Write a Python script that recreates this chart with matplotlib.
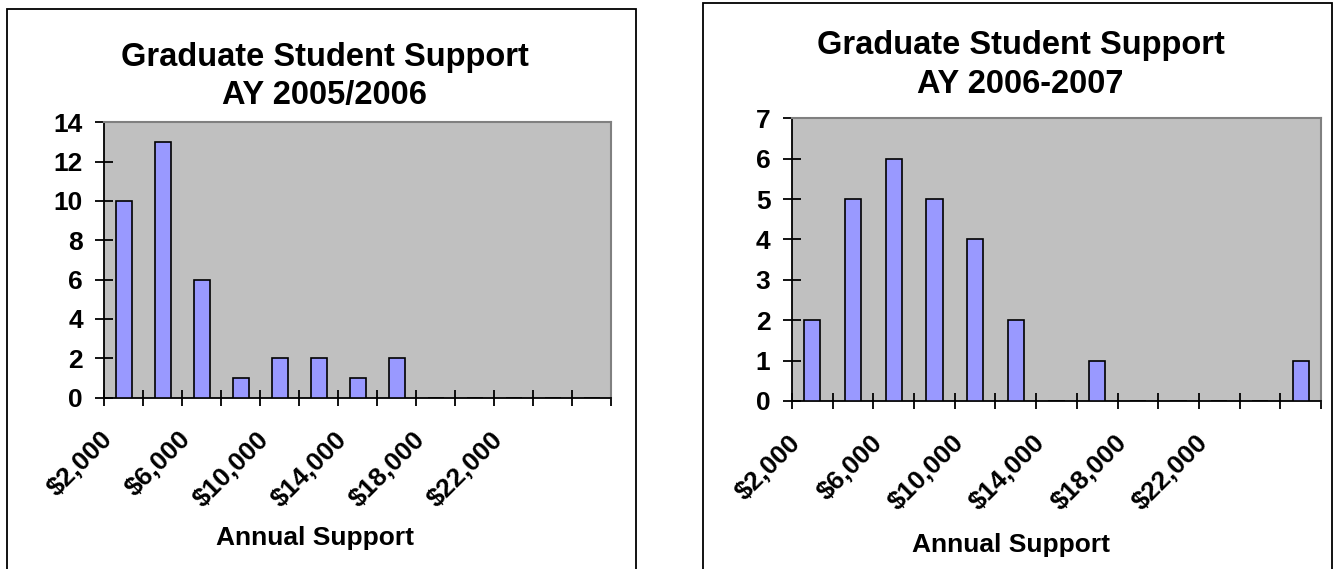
import matplotlib
matplotlib.use("Agg")
import matplotlib.pyplot as plt
from matplotlib.patches import Rectangle
from matplotlib.transforms import ScaledTranslation, blended_transform_factory
import numpy as np

# Support brackets (annual support, USD) and student counts per bracket
bins = [2000, 4000, 6000, 8000, 10000, 12000, 14000, 16000,
        18000, 20000, 22000, 24000, 26000]
counts_2005_2006 = [10, 13, 6, 1, 2, 2, 1, 2, 0, 0, 0, 0, 0]
counts_2006_2007 = [2, 5, 6, 5, 4, 2, 0, 1, 0, 0, 0, 0, 1]
tick_labels = ["$2,000", "$6,000", "$10,000", "$14,000", "$18,000", "$22,000"]
labelled_bins = [2000, 6000, 10000, 14000, 18000, 22000]

titles = ["Graduate Student Support\nAY 2005/2006",
          "Graduate Student Support\nAY 2006-2007"]
xlabel = "Annual Support"

plt.rcParams["font.family"] = ["Liberation Sans", "DejaVu Sans"]
plt.rcParams["font.weight"] = "bold"

W, H = 1337, 569
fig = plt.figure(figsize=(W / 100, H / 100), dpi=100)


def px_box(x0, y0, x1, y1):
    """Convert pixel box (top-left origin) into figure fraction rect."""
    return [x0 / W, 1 - y1 / H, (x1 - x0) / W, (y1 - y0) / H]


panels = [
    dict(counts=counts_2005_2006, title=titles[0], ymax=14, ystep=2,
         plot=(104.3, 122.3, 611.3, 397.5), frame=(7, 9, 636, 575),
         title_y=76.5, xlabel_y=538),
    dict(counts=counts_2006_2007, title=titles[1], ymax=7, ystep=1,
         plot=(792, 118.3, 1321, 401), frame=(703, 3, 1332, 575),
         title_y=65, xlabel_y=545),
]

bar_color = "#9999FF"
plot_bg = "#C0C0C0"

for p in panels:
    # outer chart frame
    fx0, fy0, fx1, fy1 = p["frame"]
    fig.patches.append(Rectangle((fx0 / W, 1 - fy1 / H), (fx1 - fx0) / W,
                                 (fy1 - fy0) / H, transform=fig.transFigure,
                                 fill=False, edgecolor="black", linewidth=1.3))
    ax = fig.add_axes(px_box(*p["plot"]))
    ax.set_facecolor(plot_bg)

    n = len(bins)
    pos = np.arange(n)
    ax.bar(pos, p["counts"], width=0.4, color=bar_color,
           edgecolor="black", linewidth=1.2, zorder=3)
    ax.set_xlim(-0.5, n - 0.5)
    ax.set_ylim(0, p["ymax"])

    # category boundary ticks; labels sit under every other category
    ax.set_xticks(np.arange(n + 1) - 0.5)
    ax.set_xticklabels([])
    ax.tick_params(axis="x", direction="inout", length=12,
                   width=1.3, color="black")
    base = blended_transform_factory(ax.transData, ax.transAxes)
    offset = ScaledTranslation(-15 / 100, -38 / 100, fig.dpi_scale_trans)
    for b, lab in zip(labelled_bins, tick_labels):
        ax.text(bins.index(b), 0, lab, transform=base + offset,
                rotation=45, rotation_mode="anchor", ha="right", va="center",
                fontsize=19, fontweight="bold", clip_on=False)

    ax.set_yticks(np.arange(0, p["ymax"] + 1, p["ystep"]))
    ax.tick_params(axis="y", direction="inout", length=13, width=1.3,
                   labelsize=19, pad=9)
    for lab in ax.get_yticklabels():
        lab.set_fontweight("bold")

    for side in ("left", "bottom"):
        ax.spines[side].set_color("black")
        ax.spines[side].set_linewidth(1.3)
    for side in ("top", "right"):
        ax.spines[side].set_color("#808080")
        ax.spines[side].set_linewidth(1.5)

    cx = (fx0 + fx1) / 2 / W
    fig.text(cx + 3 / W, 1 - p["title_y"] / H, p["title"], ha="center",
             va="center", fontsize=23.5, fontweight="bold", linespacing=1.3)
    fig.text(cx - 6 / W, 1 - p["xlabel_y"] / H, xlabel, ha="center",
             va="center", fontsize=19, fontweight="bold")

fig.savefig("out.png", dpi=100, facecolor="white")
